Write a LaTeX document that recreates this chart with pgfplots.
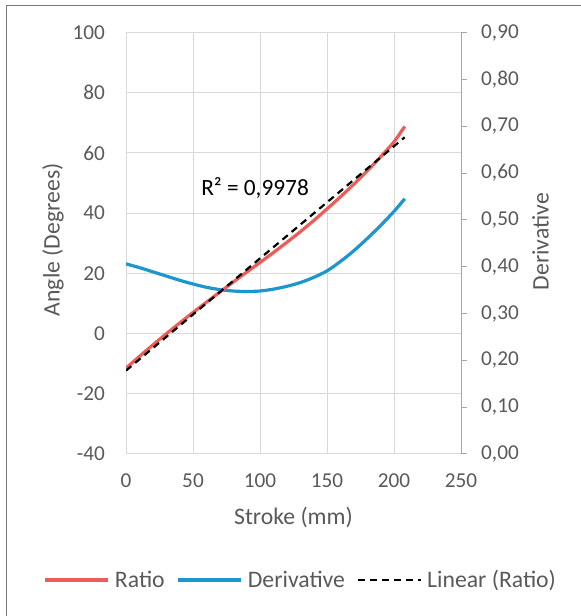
\documentclass[border=0pt]{standalone}
\usepackage{fontspec}
\setmainfont{Carlito}
\usepackage{pgfplots}
\usepackage{pgfplotstable}
\pgfplotsset{compat=1.18}
\definecolor{ratiored}{RGB}{237,92,86}
\definecolor{derivblue}{RGB}{28,150,206}
\definecolor{gridgray}{RGB}{217,217,217}
\definecolor{axisgray}{RGB}{166,166,166}
\definecolor{textgray}{RGB}{89,89,89}
\definecolor{framegray}{RGB}{118,118,118}

\pgfplotstableread{
x y
0 -11.5
10 -7.6
20 -3.8
30 -0.1
40 3.5
50 7.0
60 10.4
70 13.8
80 17.1
90 20.4
100 23.6
110 26.9
120 30.3
130 33.8
140 37.5
150 41.4
160 45.4
170 49.6
180 54.0
190 58.7
200 63.7
208 68.8
}\ratiotable

\pgfplotstableread{
x d
0 0.406
10 0.398
20 0.389
30 0.380
40 0.371
50 0.363
60 0.356
70 0.351
80 0.348
90 0.347
100 0.348
110 0.352
120 0.358
130 0.366
140 0.377
150 0.391
160 0.411
170 0.434
180 0.460
190 0.488
200 0.518
208 0.545
}\derivtable

\pgfplotsset{
  base/.style={
    at={(126bp,162bp)}, anchor=south west, scale only axis,
    width=335bp, height=421.5bp, xmin=0, xmax=250,
    /pgf/number format/assume math mode=true,
    /pgf/number format/1000 sep={},
    tick label style={font=\fontsize{21.3}{25}\selectfont, text=textgray},
    label style={font=\fontsize{23.8}{28}\selectfont, text=textgray},
  },
}

\begin{document}
\begin{tikzpicture}
\useasboundingbox (0,0) rectangle (581bp,616bp);
\draw[framegray, line width=1.3bp] (6.5bp,0) -- (6.5bp,610.5bp) -- (581bp,610.5bp);

% left axis with grid
\begin{axis}[base, ymin=-40, ymax=100,
  xtick={0,50,100,150,200,250}, ytick={-40,-20,0,20,40,60,80,100},
  grid=major, grid style={gridgray, line width=1bp},
  axis line style={draw=none}, major tick length=0pt,
  xticklabel style={anchor=north, inner sep=0pt, yshift=-20bp},
  yticklabel style={anchor=east, inner sep=0pt, xshift=-21bp},
  xlabel={Stroke (mm)}, ylabel={Angle (Degrees)},
  xlabel style={at={(axis description cs:0.5,-0.1495)}, anchor=center},
  ylabel style={at={(axis description cs:-0.218,0.508)}, anchor=center},
]
\end{axis}

% right axis with derivative
\begin{axis}[base, ymin=0, ymax=0.9,
  axis x line=none, axis y line*=right,
  ytick={0,0.1,0.2,0.3,0.4,0.5,0.6,0.7,0.8,0.9},
  y axis line style={axisgray, line width=1bp},
  ytick style={axisgray, line width=1bp},
  tick align=outside, major tick length=6bp,
  yticklabel style={anchor=west, inner sep=0pt, xshift=14bp,
    /pgf/number format/.cd, fixed, fixed zerofill, precision=2, use comma},
  ylabel={Derivative},
  ylabel style={at={(axis description cs:1.237,0.504)}, anchor=center},
]
\addplot[derivblue, line width=3.2bp, smooth] table[x=x, y=d]{\derivtable};
\end{axis}

% ratio, trendline, legend
\begin{axis}[base, ymin=-40, ymax=100, hide axis,
  legend style={at={(axis description cs:0.519,-0.299)}, anchor=center,
    draw=none, fill=none, legend columns=3, inner sep=0pt,
    font=\fontsize{23.8}{28}\selectfont, text=textgray,
    nodes={inner sep=0pt},
    /tikz/every odd column/.append style={column sep=5bp},
    /tikz/every even column/.append style={column sep=12bp}},
  legend image code/.code={\draw[#1] (0bp,0bp) -- (63bp,0bp);},
]
\addplot[ratiored, line width=3.2bp, smooth] table[x=x, y=y]{\ratiotable};
\addlegendentry{Ratio}
\addlegendimage{derivblue, line width=3.2bp}
\addlegendentry{Derivative}
\addplot[black, line width=2.2bp, dash pattern=on 7bp off 5bp] coordinates {(0,-12.3) (208,65.2)};
\addlegendentry{Linear (Ratio)}
\node[font=\fontsize{23.4}{28}\selectfont, text=black] at (axis cs:96.3,48.3) {R² = 0,9978};
\end{axis}
\end{tikzpicture}
\end{document}
